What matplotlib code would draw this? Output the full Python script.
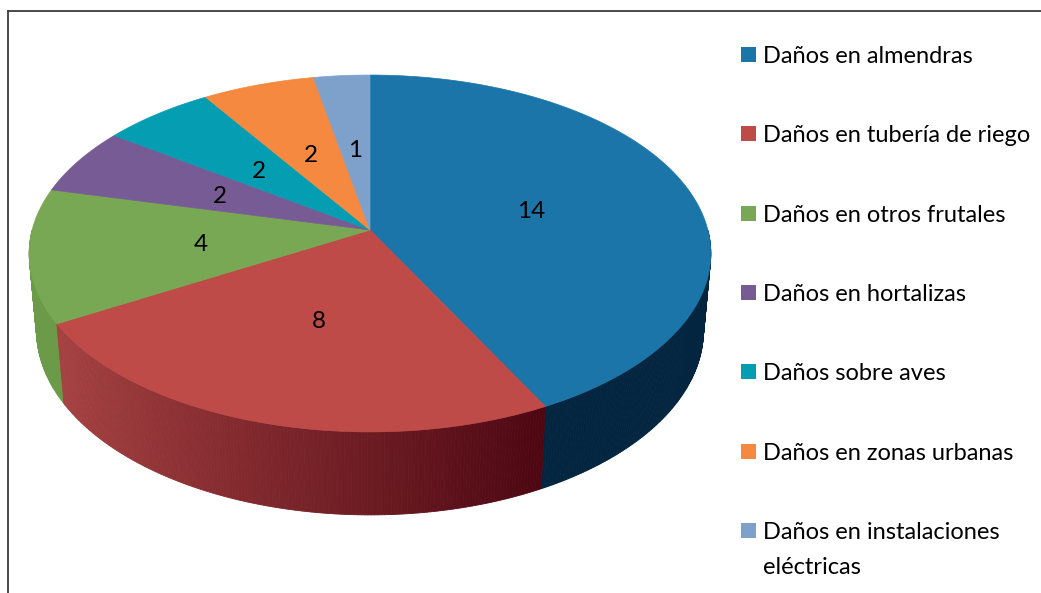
import numpy as np
import matplotlib.pyplot as plt
from matplotlib.patches import Polygon, Rectangle

categories = ['Daños en almendras', 'Daños en tubería de riego', 'Daños en otros frutales',
              'Daños en hortalizas', 'Daños sobre aves', 'Daños en zonas urbanas',
              'Daños en instalaciones\neléctricas']
values = [14, 8, 4, 2, 2, 2, 1]

colors = ['#1B75A9', '#BE4B48', '#78A854', '#775B94', '#059DB1', '#F4893F', '#7DA1CB']
# side wall colours: (lit end on the left, dark end on the right)
side_colors = [('#03253F', '#03253F'), ('#A84343', '#4A0510'), ('#6B9A48', '#5E8A3C'),
               ('#4E3A66', '#3A2A4E'), ('#036A78', '#024E58'), ('#A85D2A', '#7A4020'),
               ('#55708E', '#3E526A')]

# simple perspective projection of a flat cylinder (pixel coordinates)
cx, cy = 370, 230
F, D = 2196, 6.5
se = 0.519
ce = np.sqrt(1 - se**2)
H = 0.271


def proj(r, theta, h=0.0):
    u = r * np.sin(theta)
    v = r * np.cos(theta)
    depth = D + h * se + v * ce
    up = -h * ce + v * se
    return cx + F * u / depth, cy - F * up / depth


def mix(c1, c2, t):
    a = np.array([int(c1[i:i + 2], 16) for i in (1, 3, 5)]) / 255
    b = np.array([int(c2[i:i + 2], 16) for i in (1, 3, 5)]) / 255
    return tuple(a + (b - a) * t)


fig = plt.figure(figsize=(10.41, 5.93), dpi=100)
ax = fig.add_axes([0, 0, 1, 1])
ax.set_xlim(0, 1041)
ax.set_ylim(593, 0)
ax.axis('off')

total = sum(values)
bounds = np.concatenate([[0], np.cumsum(values)]) / total * 2 * np.pi

# side walls (front half only), far strips first
strips = []
for i in range(len(values)):
    a0, a1 = bounds[i], bounds[i + 1]
    n = max(int(np.degrees(a1 - a0) * 2), 2)
    th = np.linspace(a0, a1, n + 1)
    for k in range(n):
        tm = (th[k] + th[k + 1]) / 2
        if np.cos(tm) >= 0:
            continue
        strips.append((np.cos(tm), i, th[k], th[k + 1]))
strips.sort(key=lambda s: -s[0])
for vm, i, t0, t1 in strips:
    pts = [proj(1, t0), proj(1, t1), proj(1, t1, H), proj(1, t0, H)]
    t = np.clip((np.sin((t0 + t1) / 2) + 0.9) / 1.4, 0, 1)
    c = mix(side_colors[i][0], side_colors[i][1], t)
    ax.add_patch(Polygon(pts, closed=True, facecolor=c, edgecolor=c, lw=0.6))

# top face
for i in range(len(values)):
    th = np.linspace(bounds[i], bounds[i + 1], 200)
    pts = [proj(0, 0)] + [proj(1, t) for t in th]
    ax.add_patch(Polygon(pts, closed=True, facecolor=colors[i], edgecolor=colors[i], lw=0.5))

# value labels
for i, val in enumerate(values):
    tm = (bounds[i] + bounds[i + 1]) / 2
    x, y = proj(0.5, tm)
    ax.text(x, y + 2, str(val), ha='center', va='center', fontsize=17.5,
            family='Lato', color='black')

# legend
for i, name in enumerate(categories):
    base = 63 + i * 79.3
    ax.add_patch(Rectangle((741, base - 16), 15, 15, facecolor=colors[i], edgecolor='none'))
    for j, line in enumerate(name.split('\n')):
        ax.text(763, base + j * 35, line, ha='left', va='baseline', fontsize=17,
                family='Lato', color='black')

# chart frame
ax.plot([8, 8], [593, 11], color='#3C3C3C', lw=1.3)
ax.plot([8, 1041], [11, 11], color='#3C3C3C', lw=1.3)

fig.savefig('out.png', dpi=100)
